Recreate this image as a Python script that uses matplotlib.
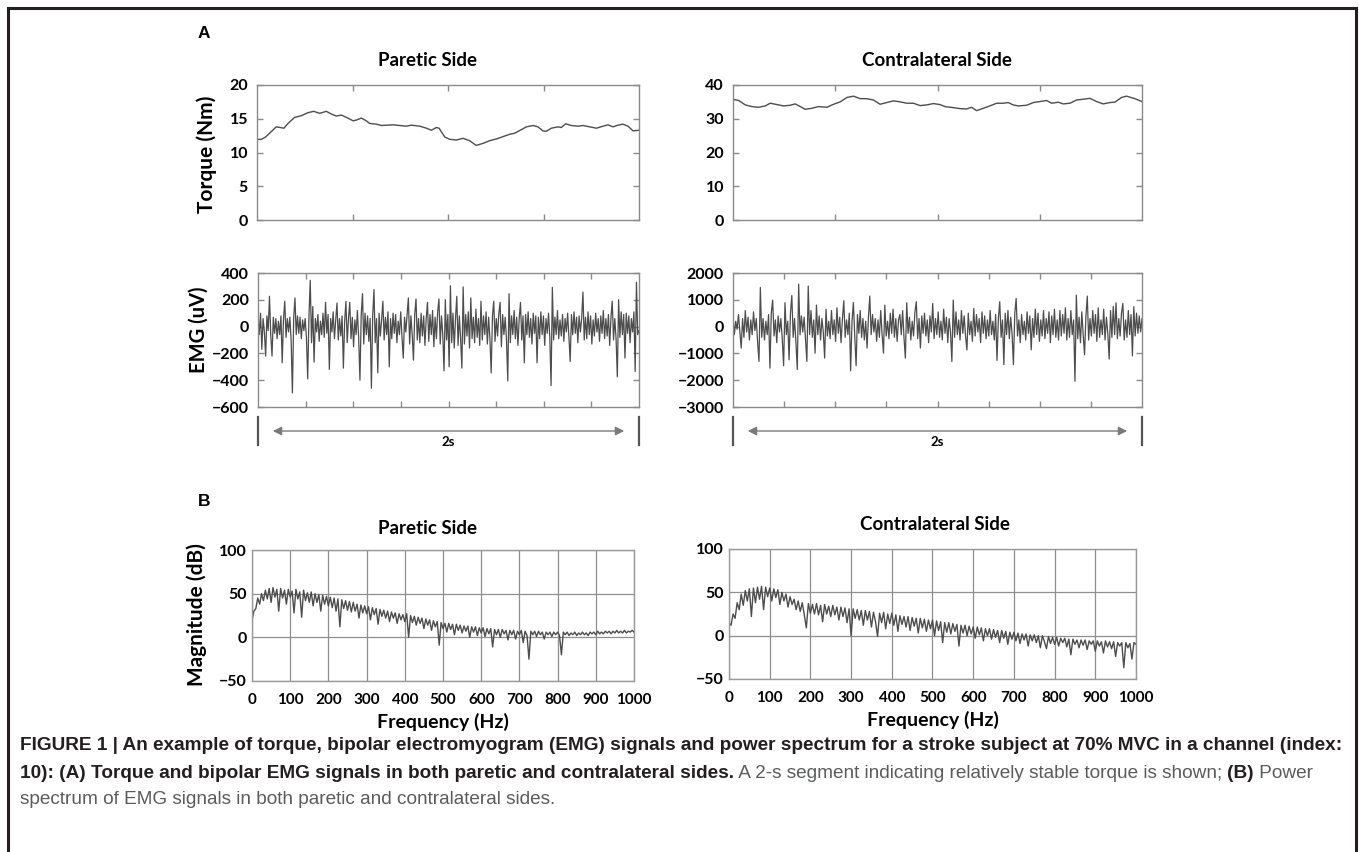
import numpy as np
import matplotlib
matplotlib.use("Agg")
import matplotlib.pyplot as plt
from matplotlib.patches import FancyArrowPatch
from matplotlib.lines import Line2D

# ---------------- data ----------------
torque_p_t = [0.000, 0.023, 0.045, 0.075, 0.101, 0.122, 0.141, 0.162, 0.197, 0.232,
              0.267, 0.297, 0.328, 0.363, 0.389, 0.415, 0.442, 0.468, 0.503, 0.520,
              0.546, 0.572, 0.590, 0.625, 0.651, 0.712, 0.747, 0.782, 0.808, 0.852,
              0.887, 0.913, 0.939, 0.953, 0.983, 1.009, 1.044, 1.079, 1.113, 1.148,
              1.183, 1.218, 1.253, 1.288, 1.323, 1.349, 1.375, 1.410, 1.445, 1.471,
              1.497, 1.515, 1.541, 1.576, 1.593, 1.616, 1.646, 1.681, 1.707, 1.742,
              1.777, 1.812, 1.838, 1.864, 1.890, 1.916, 1.942, 1.969, 2.000]
torque_p = [11.95, 11.95, 12.3, 13.1, 13.8, 13.7, 13.6, 14.3, 15.2, 15.45,
            15.9, 16.1, 15.8, 16.1, 15.7, 15.4, 15.55, 15.2, 14.7, 14.8,
            15.1, 14.7, 14.3, 14.2, 14.0, 14.1, 14.0, 13.9, 14.05, 13.9,
            13.6, 13.3, 13.7, 13.6, 12.3, 11.95, 11.85, 12.1, 11.75, 11.05,
            11.35, 11.75, 12.0, 12.35, 12.7, 12.85, 13.25, 13.8, 14.0, 13.8,
            13.2, 13.15, 13.6, 13.8, 13.7, 14.25, 14.0, 13.9, 14.0, 13.8,
            13.6, 13.9, 14.1, 13.8, 14.05, 14.2, 13.9, 13.2, 13.3]

torque_c_t = [0.000, 0.028, 0.060, 0.093, 0.125, 0.158, 0.182, 0.215, 0.247, 0.280,
              0.304, 0.329, 0.353, 0.386, 0.418, 0.459, 0.492, 0.524, 0.557, 0.589,
              0.622, 0.654, 0.687, 0.719, 0.752, 0.785, 0.817, 0.850, 0.882, 0.915,
              0.947, 0.980, 1.012, 1.037, 1.077, 1.110, 1.142, 1.167, 1.191, 1.224,
              1.256, 1.289, 1.322, 1.346, 1.370, 1.395, 1.436, 1.469, 1.501, 1.534,
              1.558, 1.591, 1.615, 1.648, 1.680, 1.721, 1.745, 1.778, 1.810, 1.843,
              1.867, 1.900, 1.924, 1.965, 2.000]
torque_c = [35.75, 35.4, 34.1, 33.6, 33.4, 33.8, 34.6, 34.2, 33.8, 34.0,
            34.4, 33.6, 32.8, 33.1, 33.6, 33.4, 34.3, 35.0, 36.3, 36.7,
            35.95, 35.95, 35.55, 34.3, 34.8, 35.3, 35.0, 34.6, 34.6, 33.9,
            34.1, 34.5, 34.2, 33.6, 33.3, 33.0, 32.9, 33.4, 32.4, 33.1,
            33.8, 34.6, 34.6, 34.8, 34.1, 33.8, 34.0, 34.8, 35.1, 35.4,
            34.6, 34.9, 34.4, 34.6, 35.55, 35.85, 36.05, 35.1, 34.4, 34.8,
            34.9, 36.3, 36.7, 35.95, 35.1]

emg_p = [90, -60, 100, -170, 60, -40, -220, 80, -30, 226, -60, -220, 70, -50, 60, -90, 40, -60, 80, -270,
         50, 189, -80, 60, -40, 70, -100, -495, 60, 214, -60, 80, -50, 70, -90, 50, -30, 60, -80, -390,
         80, 345, -120, 150, -265, 60, -40, 90, -110, 40, -60, 100, -80, 181, -50, 90, -320, 60, -40, 110,
         -90, 50, 176, -100, 60, -70, 80, -310, 40, 189, -120, 60, 181, -90, 70, -150, 50, -60, 120, -80,
         -400, 90, 246, -130, 100, -60, 80, -110, 60, -460, 80, 276, -120, 60, -345, 100, -70, 50, 189, -100,
         70, -60, 110, -300, 60, -90, 100, -50, 90, -120, 40, -60, 110, -80, -235, 70, -40, 90, 214, -130,
         80, -60, -250, 90, 206, -100, 60, -120, 100, -70, 80, -140, 60, 181, -110, 90, -60, 120, -150, 70,
         -90, 110, 206, -130, 80, -60, -330, 201, -100, 90, -300, 305, -120, 100, -160, 60, 226, -140, 80, -90,
         -310, 296, -130, 90, -70, 110, -160, 214, -90, 70, -120, 130, -80, 60, -140, 189, -100, 80, -60, 110,
         -130, 70, -90, -345, 80, 189, -110, 60, -70, 100, 181, -150, 90, -60, 70, -100, -405, 246, -120, 80,
         -60, 120, -90, 70, -140, 60, 181, -100, 80, -270, 90, -60, 110, -80, 60, -130, 100, -50, 80, -270,
         70, -90, 110, -60, 80, -140, 60, -50, 100, -80, -440, 293, -100, 70, -60, 120, -90, 50, -70, 90,
         -110, 60, -40, 100, -80, -260, 90, -60, 110, -50, 70, -120, 80, -40, 60, 258, -100, 70, -90, 110,
         -60, 80, -130, 50, -70, 100, -40, 60, -110, 80, -50, 120, -90, 60, -70, 90, -140, 70, 189, -100,
         60, -90, -375, 201, -80, 110, -60, 90, -235, 100, -50, 80, -120, 60, -40, 110, -335, 330, -60, -30]

emg_c = [400, -300, 200, -100, 450, -200, -800, 300, -400, 600, -200, 350, -500, 250, -300, 550, -150, 300, -600, -1300,
         1460, -400, 300, -500, 200, -300, 450, -1550, 500, 990, -350, 250, -600, 400, -200, 300, -450, -1460, 890, -300,
         200, -1240, 500, 1160, -400, 300, -600, -1600, 1585, -300, 400, -200, 350, -500, -1300, 1510, -300, 600, -400, 250,
         -990, 800, -300, 400, -500, 300, -200, -1175, 650, -350, 200, -450, 600, -300, 250, -550, 700, -250, 350, -600,
         300, 965, -400, 250, -300, 500, -1650, 200, 900, -350, -1460, 450, -250, 600, -400, 300, -500, 200, -800, 350,
         1140, -300, 450, -200, 300, -550, 250, -400, 600, -300, -990, 800, -350, 200, -450, 500, -250, 650, -400, 300,
         -550, 250, 450, -300, 600, -400, -1175, 890, -250, 350, -500, 200, -350, 550, 930, -450, 300, -800, 400, -250,
         500, -350, 250, -600, 400, -200, 865, -450, 300, -300, 550, -400, 200, -500, 650, -250, 350, -600, 300, -200,
         -1300, 990, -400, 550, -300, 250, -500, 600, -250, 400, -350, -870, 500, -300, 200, -550, 680, -350, 450, -200,
         300, -600, 550, -250, 400, -450, 250, -350, 600, -300, 200, -500, 450, -1260, 300, 930, -400, 250, -1420, 500,
         -300, 600, -450, 350, -250, -1420, 500, 1050, -350, 250, -600, 450, -300, 200, -500, 550, -250, 400, -870, 300,
         -400, 650, -300, 500, -550, 250, -350, 600, -450, 300, -250, 550, -600, 400, -300, 650, -400, 250, -500, 600,
         -350, 450, -250, 700, -500, 300, -400, 600, -300, 250, -2040, 1175, -450, 350, -600, 550, -300, -1050, 400, 1140,
         -500, 300, -350, 600, -250, 450, -550, 700, -400, 250, -300, 650, -500, 350, -250, -1210, 600, -400, 750, -300,
         890, -450, 300, -350, 500, 865, -500, 250, -400, 600, -300, 450, -1090, 740, -350, 500, -250, 400, -200, 300]

spec_p = [20, 30, 33, 45, 38, 50, 42, 54, 44, 56,
          40, 57, 46, 55, 30, 56, 45, 54, 38, 55,
          46, 53, 28, 55, 44, 52, 23, 54, 42, 51,
          40, 52, 36, 50, 40, 49, 30, 48, 38, 47,
          36, 46, 34, 45, 30, 44, 12, 43, 33, 42,
          31, 41, 29, 40, 30, 38, 22, 37, 28, 36,
          27, 35, 20, 34, 26, 33, 15, 32, 24, 31,
          22, 30, 18, 29, 22, 28, 16, 27, 20, 26,
          18, 27, 0, 25, 17, 24, 14, 23, 16, 22,
          10, 21, 14, 20, 8, 19, 12, 18, -9, 17,
          10, 16, 6, 16, 9, 15, 3, 15, 8, 14,
          5, 13, 7, 13, 0, 12, 6, 12, 2, 11,
          5, 11, 1, 10, 4, 10, -11, 9, 3, 9,
          0, 9, 4, 8, -3, 8, 3, 8, -2, 7,
          3, 8, -6, 7, 2, -25, 7, 3, 7, 1,
          7, 3, 6, -2, 6, 3, 6, 1, 6, 3,
          6, 2, -20, 6, 3, 6, 2, 5, 3, 6,
          2, 5, 3, 6, 3, 5, 2, 6, 4, 6,
          3, 7, 4, 6, 4, 7, 5, 7, 4, 7,
          5, 8, 5, 7, 5, 8, 5, 7, 6, 8,
          6]

spec_c = [15, 12, 25, 20, 38, 30, 48, 35, 52, 40,
          54, 22, 55, 38, 56, 42, 57, 30, 56, 45,
          55, 40, 54, 44, 53, 36, 50, 40, 48, 33,
          45, 36, 42, 30, 40, 28, 38, 24, 9, 37,
          26, 36, 25, 37, 24, 35, 16, 36, 25, 34,
          22, 35, 24, 33, 18, 33, 22, 32, 15, 31,
          0, 31, 20, 30, 18, 29, 12, 29, 18, 28,
          10, 27, 16, -1, 26, 15, 27, 8, 25, 14,
          26, 12, 24, 5, 23, 13, 22, 10, 22, 6,
          21, 11, 20, 3, 20, 9, 19, 5, 18, 8,
          18, 0, 17, 6, 16, -8, 15, 4, 15, 2,
          14, 5, 13, -12, 12, 3, 12, 0, 11, 2,
          10, -3, 10, 1, 9, -6, 8, 0, 8, -4,
          7, -2, 6, -8, 6, -3, 5, -10, 4, -4,
          4, -6, 3, -9, 2, -5, 2, -12, 1, -6,
          1, -8, 0, -14, 0, -7, -15, -1, -9, -2,
          -10, -2, -12, -3, -8, -3, -13, -4, -22, -4,
          -10, -5, -14, -5, -11, -5, -16, -6, -10, -6,
          -18, -6, -12, -7, -20, -6, -13, -7, -15, -7,
          -24, -8, -12, -8, -37, -8, -14, -9, -27, -8,
          -10]

freq_ticks = [0, 100, 200, 300, 400, 500, 600, 700, 800, 900, 1000]
titles = ["Paretic Side", "Contralateral Side"]

# ---------------- figure ----------------
W, H = 1359, 852
fig = plt.figure(figsize=(W / 100, H / 100), dpi=100)
FONT = ["Lato", "DejaVu Sans"]
plt.rcParams["font.family"] = FONT

LINE = "#4d4d4d"
SPINE = "#8a8a8a"
TICKFS = 11.5


def fx(x):
    return x / W


def fy(y):
    return 1 - y / H


def ax_px(l, t, r, b):
    return fig.add_axes([l / W, 1 - b / H, (r - l) / W, (b - t) / H])


def style_box(ax):
    for s in ax.spines.values():
        s.set_color(SPINE)
        s.set_linewidth(1.0)
    ax.tick_params(direction="in", top=True, right=True, length=4, width=1,
                   color=SPINE, labelsize=TICKFS, pad=6.5)
    ax.tick_params(axis="x", labelbottom=False)
    for lab in ax.get_yticklabels():
        lab.set_fontweight("bold")


# Torque panels
for (l, r), tt, tv, ymax, ystep in [((257, 639), torque_p_t, torque_p, 20, 5),
                                    ((733, 1142), torque_c_t, torque_c, 40, 10)]:
    ax = ax_px(l, 85, r, 220)
    ax.plot(tt, tv, color=LINE, lw=1.0)
    ax.set_xlim(0, 2)
    ax.set_ylim(0, ymax)
    ax.set_xticks([0.5, 1.0, 1.5])
    ax.set_yticks(np.arange(0, ymax + 1, ystep))
    style_box(ax)

# EMG panels
for (l, r), data, ylo, yhi, ystep in [((258, 639), emg_p, -600, 400, 200),
                                      ((733, 1142), emg_c, -3000, 2000, 1000)]:
    ax = ax_px(l, 273, r, 407)
    t = np.linspace(0, 2, len(data))
    ax.plot(t, data, color=LINE, lw=0.9)
    ax.set_xlim(0, 2)
    ax.set_ylim(ylo, yhi)
    ax.set_xticks([0.25, 0.5, 0.75, 1.0, 1.25, 1.5, 1.75])
    ax.set_yticks(np.arange(ylo, yhi + 1, ystep))
    style_box(ax)

    # 2 s bracket and arrow
    for xx in (l, r):
        fig.add_artist(Line2D([fx(xx), fx(xx)], [fy(417), fy(445)],
                              transform=fig.transFigure, color="#555555", lw=1.6))
    arr = FancyArrowPatch((fx(l + 12), fy(431)), (fx(r - 12), fy(431)),
                          transform=fig.transFigure, arrowstyle="<|-|>",
                          mutation_scale=13, color="#7a7a7a", lw=1.0)
    fig.add_artist(arr)
    fig.text(fx((l + r) / 2), fy(442), "2s", ha="center", va="center",
             fontsize=9.5, fontweight="bold")

# Spectrum panels
for (l, t_, r, b), data in [((252, 550, 634, 681), spec_p), ((729, 549, 1136, 679), spec_c)]:
    ax = ax_px(l, t_, r, b)
    f = np.linspace(0, 1000, len(data))
    ax.plot(f, data, color=LINE, lw=1.0)
    ax.set_xlim(0, 1000)
    ax.set_ylim(-50, 100)
    ax.set_xticks(freq_ticks)
    ax.set_yticks([-50, 0, 50, 100])
    ax.grid(True, color="#8f8f8f", lw=0.9)
    ax.set_axisbelow(True)
    for s in ax.spines.values():
        s.set_color("#9a9a9a")
        s.set_linewidth(1.0)
    ax.tick_params(length=0, labelsize=TICKFS, pad=4)
    ax.tick_params(axis="x", pad=9, labelsize=TICKFS - 0.5)
    for lab in ax.get_xticklabels() + ax.get_yticklabels():
        lab.set_fontweight("bold")
    ax.set_xlabel("Frequency (Hz)", fontsize=14, fontweight="bold", labelpad=4)

# Titles
fig.text(fx(428), fy(61), titles[0], ha="center", va="center", fontsize=13.5, fontweight="bold")
fig.text(fx(937), fy(61), titles[1], ha="center", va="center", fontsize=13.5, fontweight="bold")
fig.text(fx(428), fy(528), titles[0], ha="center", va="center", fontsize=13.5, fontweight="bold")
fig.text(fx(935), fy(525), titles[1], ha="center", va="center", fontsize=13.5, fontweight="bold")

# Y labels
fig.text(fx(207), fy(154), "Torque (Nm)", rotation=90, ha="center", va="center",
         fontsize=15, fontweight="bold")
fig.text(fx(199), fy(330), "EMG (uV)", rotation=90, ha="center", va="center",
         fontsize=14.5, fontweight="bold")
fig.text(fx(197), fy(615), "Magnitude (dB)", rotation=90, ha="center", va="center",
         fontsize=15, fontweight="bold")

# Panel letters
fig.text(fx(198), fy(33), "A", ha="left", va="center", fontsize=12.5, fontweight="bold",
         family="Liberation Sans")
fig.text(fx(198), fy(502), "B", ha="left", va="center", fontsize=12.5, fontweight="bold",
         family="Liberation Sans")

# Outer frame (open at the bottom)
FR = "#231f20"
fig.add_artist(Line2D([fx(7.5), fx(1355.5)], [fy(7.5), fy(7.5)], transform=fig.transFigure,
                      color=FR, lw=2.2, solid_capstyle="projecting"))
fig.add_artist(Line2D([fx(7.5), fx(7.5)], [fy(7.5), 0], transform=fig.transFigure, color=FR, lw=2.2))
fig.add_artist(Line2D([fx(1355.5), fx(1355.5)], [fy(7.5), 0], transform=fig.transFigure, color=FR, lw=2.2))

# Caption
BOLD_C = "#231f20"
REG_C = "#5a5b5d"
CAP_FONT = ["Liberation Sans", "DejaVu Sans"]
renderer = fig.canvas.get_renderer()

line1 = ("FIGURE 1 | An example of torque, bipolar electromyogram (EMG) signals and power spectrum "
         "for a stroke subject at 70% MVC in a channel (index:")
probe = fig.text(0, 0, line1, fontsize=10, fontweight="bold", family=CAP_FONT)
wprobe = probe.get_window_extent(renderer=renderer).width
probe.remove()
CAP_FS = 10 * 1323.0 / wprobe


def caption_line(y, parts):
    x = 20.0
    for txt, bold in parts:
        t = fig.text(fx(x), fy(y), txt, ha="left", va="center", fontsize=CAP_FS,
                     fontweight="bold" if bold else "normal",
                     color=BOLD_C if bold else REG_C, family=CAP_FONT)
        x += t.get_window_extent(renderer=renderer).width


caption_line(746, [(line1, True)])
caption_line(773, [("10): (A) Torque and bipolar EMG signals in both paretic and contralateral sides.", True),
                   (" A 2-s segment indicating relatively stable torque is shown; ", False),
                   ("(B)", True), (" Power", False)])
caption_line(800, [("spectrum of EMG signals in both paretic and contralateral sides.", False)])

fig.savefig("out.png", dpi=100)
